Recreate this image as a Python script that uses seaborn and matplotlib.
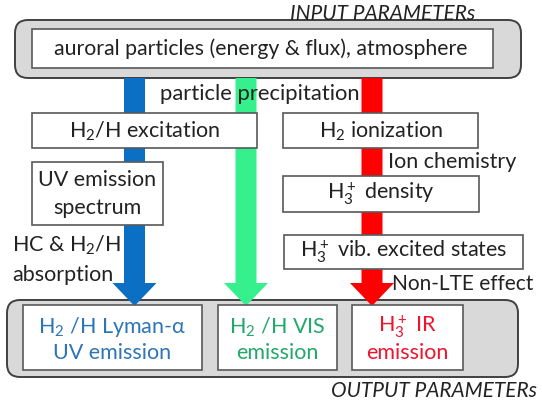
import matplotlib.pyplot as plt
import seaborn as sns
from matplotlib.patches import FancyBboxPatch, Polygon

sns.set_theme(style='white')
plt.rcParams['font.family'] = ['Lato', 'DejaVu Sans']
plt.rcParams['mathtext.default'] = 'regular'

# labels of the diagram
top_label = 'auroral particles (energy & flux), atmosphere'
input_label = 'INPUT PARAMETERs'
output_label = 'OUTPUT PARAMETERs'
flow_label = 'particle precipitation'
left_steps = ['$H_2$/H excitation', ['UV emission', 'spectrum']]
right_steps = ['$H_2$ ionization', '$H_3^+$ density', '$H_3^+$ vib. excited states']
side_notes = [['HC & $H_2$/H', 'absorption'], 'Ion chemistry', 'Non-LTE effect']
outputs = [['$H_2$ /H Lyman-α', 'UV emission'], ['$H_2$ /H VIS', 'emission'],
           ['$H_3^+$ IR', 'emission']]
arrow_colors = ['#0B6FC4', '#35F08C', '#FF0000']
text_colors = ['#2E75B6', '#22A86A', '#F0142D']

fig = plt.figure(figsize=(5.42, 4.04), dpi=100)
ax = fig.add_axes([0, 0, 1, 1])
ax.set_xlim(0, 542)
ax.set_ylim(404, 0)
ax.axis('off')


def box(x0, y0, x1, y1, rounded=False, z=3):
    if rounded:
        p = FancyBboxPatch((x0, y0), x1 - x0, y1 - y0,
                           boxstyle='round,pad=0,rounding_size=13',
                           fc='#D9D9D9', ec='#404040', lw=1.4, zorder=z)
    else:
        p = FancyBboxPatch((x0, y0), x1 - x0, y1 - y0, boxstyle='square,pad=0',
                           fc='white', ec='#595959', lw=1.2, zorder=z)
    ax.add_patch(p)


def label(x, y, s, size=15.5, ha='center', color='#222222', **kw):
    ax.text(x, y, s, fontsize=size, ha=ha, va='center', color=color,
            zorder=5, **kw)


# frames
box(15, 20, 521, 78, rounded=True, z=1)
box(32, 29, 493, 68)
box(7, 300, 518, 377, rounded=True, z=1)

# arrows
for cx, c in zip([134.5, 246, 372], arrow_colors):
    w, hw = 10.5, 22
    ax.add_patch(Polygon([(cx - w, 78), (cx + w, 78), (cx + w, 283), (cx + hw, 283),
                          (cx, 306), (cx - hw, 283), (cx - w, 283)],
                         closed=True, fc=c, ec='none', zorder=2))

# step boxes
box(32, 113, 257, 148)
box(32, 162, 163, 225)
box(283, 113, 478, 148)
box(283, 176, 479, 212)
box(284, 235, 523, 269)

# output boxes
out_boxes = [(23, 305, 202, 370), (218, 305, 337, 370), (352, 305, 463, 370)]
for (x0, y0, x1, y1), s, c in zip(out_boxes, outputs, text_colors):
    box(x0, y0, x1, y1)
    label((x0 + x1) / 2, 327, s[0], color=c)
    label((x0 + x1) / 2, 353, s[1], color=c)

label(261, 49, top_label, size=15.3)
label(383, 14, input_label, size=15, style='italic')
label(537, 391, output_label, size=15, ha='right', style='italic')
label(259.5, 94, flow_label, size=15.8)

label(144.5, 131, left_steps[0])
label(97.5, 180, left_steps[1][0])
label(97.5, 208, left_steps[1][1])
label(380.5, 131, right_steps[0])
label(381, 194, right_steps[1])
label(403.5, 252, right_steps[2])

label(12, 245, side_notes[0][0], ha='left')
label(12, 275, side_notes[0][1], ha='left')
label(388, 162, side_notes[1], ha='left')
label(533, 284, side_notes[2], size=15, ha='right')

fig.savefig('out.png', dpi=100)
